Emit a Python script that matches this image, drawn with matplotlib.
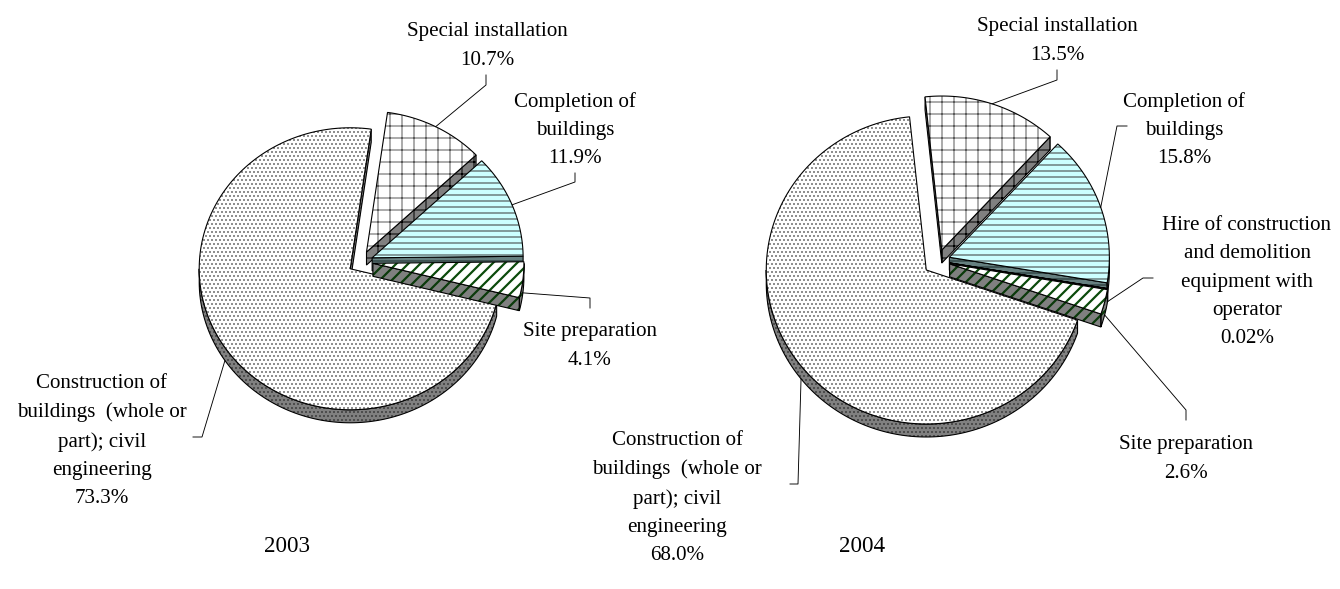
import numpy as np
import matplotlib
matplotlib.use("Agg")
import matplotlib.pyplot as plt
from matplotlib.patches import Polygon

# ---------------- data ----------------
years = ["2003", "2004"]

categories_2003 = ["Special installation", "Completion of\nbuildings",
                   "Site preparation",
                   "Construction of\nbuildings  (whole or\npart); civil\nengineering"]
values_2003 = [10.7, 11.9, 4.1, 73.3]
pct_2003 = ["10.7%", "11.9%", "4.1%", "73.3%"]
keys_2003 = ["special", "completion", "site", "construction"]

categories_2004 = ["Special installation", "Completion of\nbuildings",
                   "Hire of construction\nand demolition\nequipment with\noperator",
                   "Site preparation",
                   "Construction of\nbuildings  (whole or\npart); civil\nengineering"]
values_2004 = [13.5, 15.8, 0.02, 2.6, 68.0]
pct_2004 = ["13.5%", "15.8%", "0.02%", "2.6%", "68.0%"]
keys_2004 = ["special", "completion", "hire", "site", "construction"]

# ---------------- styles ----------------
STY = {
    "special":      dict(face="#FFFFFF", side="#808080", hatch="+",   hc="#5A5A5A", hside="#000000", hlw=1.0),
    "completion":   dict(face="#CCFFFF", side="#668080", hatch="--",  hc="#3A3A3A", hside="#1A2A2A", hlw=1.0),
    "hire":         dict(face="#FFFFFF", side="#404040", hatch="",    hc="#000000", hside="#000000", hlw=1.0),
    "site":         dict(face="#FFFFFF", side="#808080", hatch="//",  hc="#0B4A0B", hside="#0B3A0B", hlw=2.2),
    "construction": dict(face="#FFFFFF", side="#808080", hatch="...", hc="#505050", hside="#303030", hlw=0.9),
}

DPI = 72
fig = plt.figure(figsize=(1340 / DPI, 589 / DPI), dpi=DPI)
ax = fig.add_axes([0, 0, 1, 1])
ax.set_xlim(0, 1340)
ax.set_ylim(589, 0)
ax.axis("off")

FONT = "Liberation Serif"


def add_poly(pts, face, hatch, hcolor, hlw, z):
    pts = np.asarray(pts)
    with plt.rc_context({"hatch.linewidth": hlw}):
        p = Polygon(pts, closed=True, facecolor=face, edgecolor=hcolor,
                    hatch=hatch if hatch else None, linewidth=0, zorder=z)
        if hasattr(p, "set_hatch_linewidth"):
            p.set_hatch_linewidth(hlw)
    ax.add_patch(p)
    o = Polygon(pts, closed=True, fill=False, edgecolor="black",
                linewidth=1.1, zorder=z + 0.01, joinstyle="miter")
    ax.add_patch(o)


def pt(cx, cy, rx, ry, t):
    r = np.radians(t)
    return np.array([cx + rx * np.cos(r), cy - ry * np.sin(r)])


def draw_pie(values, keys, start, C, rx, ry, depth, exp_small, exp_big):
    total = sum(values)
    slices = []
    a = start
    for v, k in zip(values, keys):
        span = 360.0 * v / total
        slices.append((k, a - span, a))
        a -= span
    ibig = int(np.argmax(values))
    order = [ibig] + [i for i in range(len(values)) if i != ibig]
    geo = {}
    z = 2
    for i in order:
        k, a0, a1 = slices[i]
        mid = 0.5 * (a0 + a1)
        e = exp_big if i == ibig else exp_small
        cx = C[0] + e * np.cos(np.radians(mid))
        cy = C[1] - e * np.sin(np.radians(mid)) * ry / rx
        geo[i] = (cx, cy, a0, a1, mid)
        s = STY[k]
        n = max(2, int(abs(a1 - a0) * 2))
        ts = np.linspace(a0, a1, n)
        apex = np.array([cx, cy])
        down = np.array([0, depth])
        segs = []
        for base in (-360, 0, 360):
            s0, s1 = max(a0, 180 + base), min(a1, 360 + base)
            if s1 > s0:
                segs.append((s0, s1))
        for s0, s1 in segs:
            tt = np.linspace(s0, s1, max(2, int((s1 - s0) * 2)))
            top = [pt(cx, cy, rx, ry, t) for t in tt]
            bot = [p + down for p in top[::-1]]
            add_poly(top + bot, s["side"], s["hatch"], s["hside"], s["hlw"], z)
        if np.cos(np.radians(a0)) > 0:
            q = pt(cx, cy, rx, ry, a0)
            add_poly([apex, q, q + down, apex + down], s["side"], s["hatch"], s["hside"], s["hlw"], z)
        if np.cos(np.radians(a1)) < 0:
            q = pt(cx, cy, rx, ry, a1)
            add_poly([apex, q, q + down, apex + down], s["side"], s["hatch"], s["hside"], s["hlw"], z)
        top = [apex] + [pt(cx, cy, rx, ry, t) for t in ts]
        add_poly(top, s["face"], s["hatch"], s["hc"], s["hlw"], z + 0.5)
        z += 1
    anchors = []
    for i in range(len(values)):
        cx, cy, a0, a1, mid = geo[i]
        p = pt(cx, cy, rx, ry, mid)
        if np.sin(np.radians(mid)) < 0:
            p = p + np.array([0, depth])
        anchors.append(p)
    return anchors


def labels(cats, pcts, anchors, layout, fs):
    for cat, pc, anc, (tx, ty, elbow) in zip(cats, pcts, anchors, layout):
        ax.text(tx, ty, cat + "\n" + pc, ha="center", va="center",
                fontsize=fs, family=FONT, linespacing=1.66, zorder=20)
        if elbow:
            xs = [anc[0]] + [e[0] for e in elbow]
            ys = [anc[1]] + [e[1] for e in elbow]
            ax.plot(xs, ys, color="black", lw=0.9, zorder=19)


# ---- 2003 ----
anc03 = draw_pie(values_2003, keys_2003, start=82.0, C=(361, 262), rx=151, ry=141,
                 depth=13, exp_small=12, exp_big=13)
layout03 = [
    (487, 46, [(486, 85), (486, 75)]),
    (575, 130, [(575, 182), (575, 173)]),
    (590, 346, [(590, 298), (590, 308)]),
    (102, 441, [(202, 437), (193, 437)]),
]
labels(categories_2003, pct_2003, anc03, layout03, 21)

# ---- 2004 ----
anc04 = draw_pie(values_2004, keys_2004, start=96.0, C=(938, 261), rx=160, ry=154,
                 depth=13, exp_small=12, exp_big=15)
layout04 = [
    (1057, 41, [(1057, 80), (1057, 70)]),
    (1184, 130, [(1117, 126), (1127, 126)]),
    (1247, 282, [(1143, 278), (1153, 278)]),
    (1186, 459, [(1186, 410), (1186, 420)]),
    (677, 498, [(798, 484), (790, 484)]),
]
labels(categories_2004, pct_2004, anc04, layout04, 21)

ax.text(287, 547, years[0], ha="center", va="center", fontsize=23, family=FONT)
ax.text(862, 547, years[1], ha="center", va="center", fontsize=23, family=FONT)

fig.savefig("out.png", dpi=DPI)
